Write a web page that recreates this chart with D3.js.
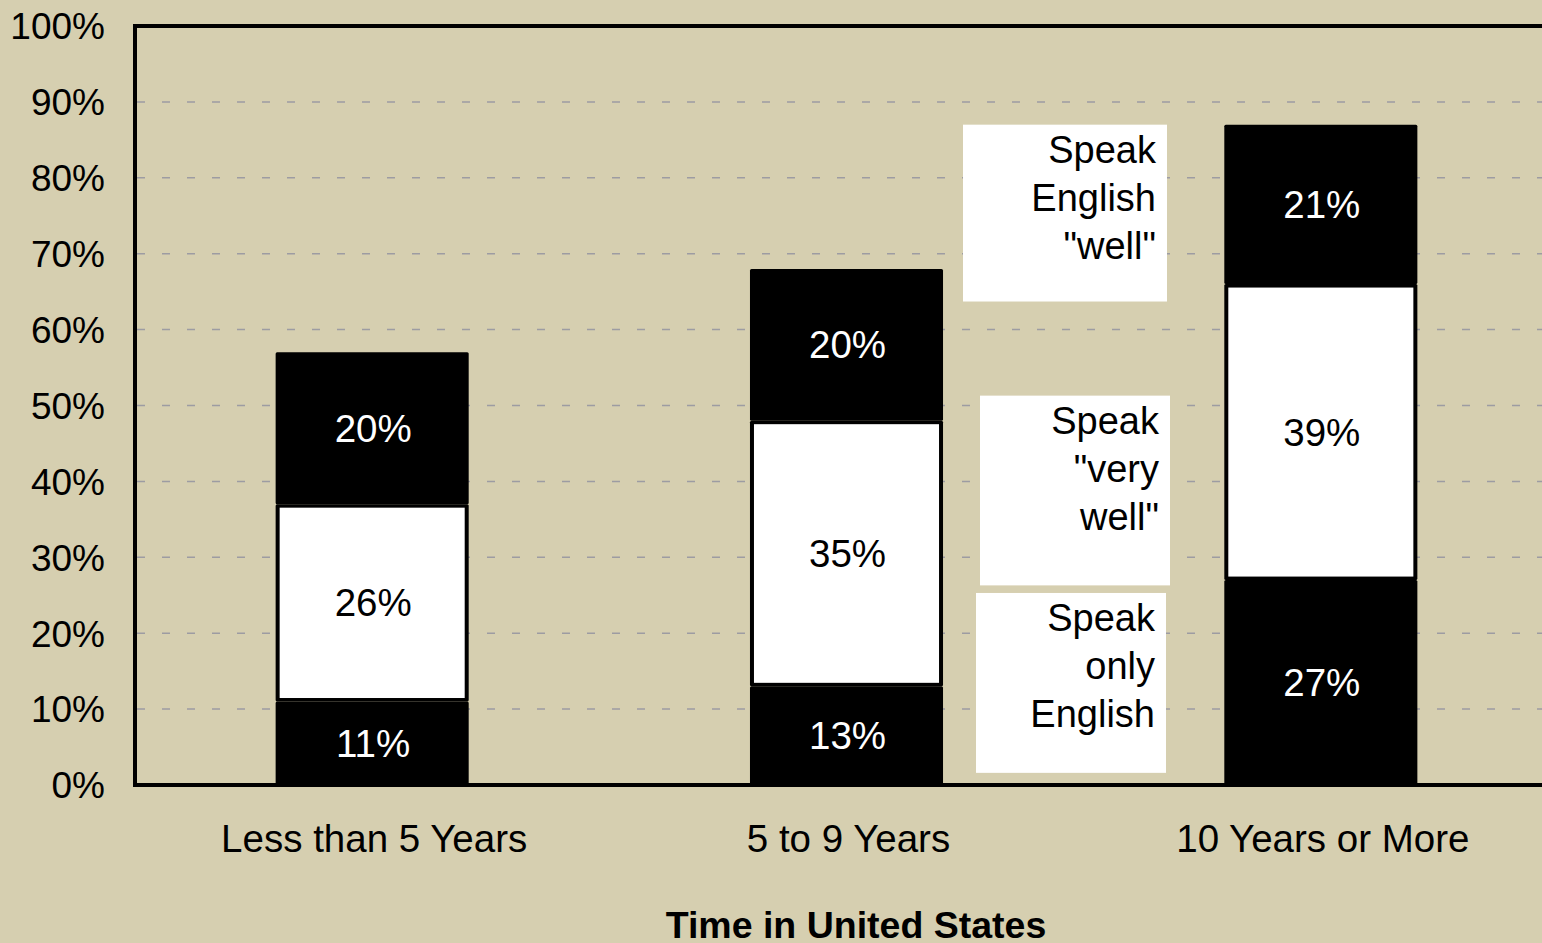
<!DOCTYPE html>
<html>
<head>
<meta charset="utf-8">
<title>Time in United States</title>
<style>
    body{ margin:0; background:#d6cfb0; }
    svg{ display:block; font-family:"Liberation Sans", Arial, sans-serif; }
    .grid line{ stroke:#9d9ca2; stroke-width:1.5; stroke-dasharray:8,17; }
    .tick-label{ font-size:37px; fill:#000; }
    .cat-label{ font-size:38.5px; fill:#000; }
    .bar-label{ font-size:38.5px; fill:#fff; }
    .legend-text{ font-size:38px; fill:#000; }
    .axis-title{ font-size:37.5px; font-weight:bold; fill:#000; }
</style>
</head>
<body>
<script src="https://cdn.jsdelivr.net/npm/d3@7"></script>
<script>
var width = 1542, height = 943;

// data
var categories = ["Less than 5 Years", "5 to 9 Years", "10 Years or More"];
var seriesNames = ["only", "veryWell", "well"];      // bottom -> top
var onlyEnglish = [11, 13, 27];
var veryWell    = [26, 35, 39];
var well        = [20, 20, 21];
var seriesFill  = ["#000", "#fff", "#000"];
var yTicks = [0, 10, 20, 30, 40, 50, 60, 70, 80, 90, 100];
var legendLines = [
    ["Speak", "English", "\"well\""],
    ["Speak", "\"very", "well\""],
    ["Speak", "only", "English"]
];

var rows = categories.map(function(c, i){
    return {cat:c, only:onlyEnglish[i], veryWell:veryWell[i], well:well[i]};
});
var stacked = d3.stack().keys(seriesNames)(rows);

var svg = d3.select("body").append("svg")
    .attr("width", width)
    .attr("height", height);

var plotLeft = 135, plotRight = 1558, plotTop = 26, plotBottom = 785;

var x = d3.scaleBand()
    .domain(categories)
    .range([plotLeft, plotRight])
    .paddingInner(0.593)
    .paddingOuter(0.2965);

var y = d3.scaleLinear()
    .domain([0, 100])
    .range([plotBottom, plotTop]);

// dashed gridlines
svg.append("g").attr("class", "grid")
    .selectAll("line")
    .data(yTicks.filter(function(t){ return t > 0 && t < 100; }))
    .enter().append("line")
    .attr("x1", plotLeft + 2)
    .attr("x2", width)
    .attr("y1", function(d){ return y(d); })
    .attr("y2", function(d){ return y(d); });

// y tick labels
svg.append("g").selectAll("text")
    .data(yTicks)
    .enter().append("text")
    .attr("class", "tick-label")
    .attr("x", 105)
    .attr("y", function(d){ return y(d); })
    .attr("dy", "0.36em")
    .attr("text-anchor", "end")
    .text(function(d){ return d + "%"; });

// bars
var layer = svg.append("g").selectAll("g")
    .data(stacked)
    .enter().append("g");

layer.selectAll("rect.seg")
    .data(function(s){ return s; })
    .enter().append("rect")
    .attr("class", "seg")
    .attr("x", function(d){ return x(d.data.cat); })
    .attr("width", x.bandwidth())
    .attr("y", function(d){ return y(d[1]); })
    .attr("height", function(d){ return y(d[0]) - y(d[1]); })
    .attr("rx", 1.5)
    .attr("fill", "#000");

// white segments sit inside a black outline
layer.filter(function(s, i){ return seriesFill[i] === "#fff"; })
    .selectAll("rect.inner")
    .data(function(s){ return s; })
    .enter().append("rect")
    .attr("class", "inner")
    .attr("x", function(d){ return x(d.data.cat) + 4; })
    .attr("width", x.bandwidth() - 8)
    .attr("y", function(d){ return y(d[1]) + 3.5; })
    .attr("height", function(d){ return y(d[0]) - y(d[1]) - 7; })
    .attr("fill", "#fff");

layer.selectAll("text")
    .data(function(s, i){ return s.map(function(d){ return {d:d, i:i}; }); })
    .enter().append("text")
    .attr("class", "bar-label")
    .attr("x", function(o){ return x(o.d.data.cat) + x.bandwidth() / 2 + 1; })
    .attr("y", function(o){ return (y(o.d[0]) + y(o.d[1])) / 2; })
    .attr("dy", "0.35em")
    .attr("text-anchor", "middle")
    .style("fill", function(o){ return seriesFill[o.i] === "#fff" ? "#000" : "#fff"; })
    .text(function(o){ return (o.d[1] - o.d[0]) + "%"; });

// plot border (right side runs off the picture)
svg.append("path")
    .attr("d", "M" + width + "," + plotTop + "H" + plotLeft + "V" + plotBottom + "H" + width)
    .attr("fill", "none")
    .attr("stroke", "#000")
    .attr("stroke-width", 4);

// legend boxes next to the middle bar
var legendBoxes = [
    {x0:963, x1:1167, top:87,   bottom:63.7},
    {x0:980, x1:1170, top:51.3, bottom:26.3},
    {x0:976, x1:1166, top:25.3, bottom:1.6}
];
var lg = svg.append("g").selectAll("g")
    .data(legendBoxes)
    .enter().append("g");

lg.append("rect")
    .attr("x", function(b){ return b.x0; })
    .attr("width", function(b){ return b.x1 - b.x0; })
    .attr("y", function(b){ return y(b.top); })
    .attr("height", function(b){ return y(b.bottom) - y(b.top); })
    .attr("fill", "#fff");

lg.each(function(b, i){
    d3.select(this).selectAll("text")
        .data(legendLines[i])
        .enter().append("text")
        .attr("class", "legend-text")
        .attr("x", b.x1 - 11)
        .attr("y", function(t, j){ return y(b.top) + 38 + j * 48; })
        .attr("text-anchor", "end")
        .text(function(t){ return t; });
});

// category labels
svg.append("g").selectAll("text")
    .data(categories)
    .enter().append("text")
    .attr("class", "cat-label")
    .attr("x", function(d){ return x(d) + x.bandwidth() / 2 + 2; })
    .attr("y", 852)
    .attr("text-anchor", "middle")
    .text(function(d){ return d; });

svg.append("text")
    .attr("class", "axis-title")
    .attr("x", 856)
    .attr("y", 938)
    .attr("text-anchor", "middle")
    .text("Time in United States");
</script>
</body>
</html>
